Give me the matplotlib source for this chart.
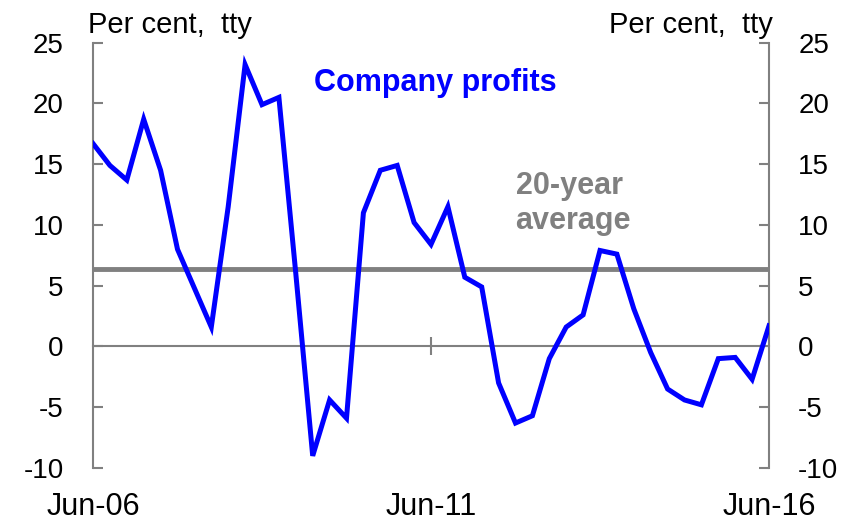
import numpy as np
import matplotlib
matplotlib.use("Agg")
import matplotlib.pyplot as plt

# quarterly, Jun-06 .. Jun-16
profits = [16.7, 14.9, 13.7, 18.7, 14.5, 8.0, 4.8, 1.6, 11.5, 23.2,
           19.9, 20.5, 6.0, -9.0, -4.4, -5.9, 11.0, 14.5, 14.9, 10.2,
           8.4, 11.5, 5.7, 4.9, -3.0, -6.3, -5.7, -1.0, 1.6, 2.6,
           7.9, 7.6, 3.1, -0.5, -3.5, -4.4, -4.8, -1.0, -0.9, -2.7, 1.7]
avg_20yr = 6.4
xtick_pos = [0, 20, 40]
xtick_labels = ["Jun-06", "Jun-11", "Jun-16"]
yticks = [-10, -5, 0, 5, 10, 15, 20, 25]

plt.rcParams['font.family'] = ['Liberation Sans', 'DejaVu Sans']
grey = '#808080'
blue = '#0000FF'

fig = plt.figure(figsize=(8.55, 5.2), dpi=100)
ax = fig.add_axes([93/855, 1-468/520, 676/855, (468-42.7)/520])

q = np.arange(len(profits))
ax.axhline(avg_20yr, color=grey, lw=3.5, zorder=2)
ax.plot(q, profits, color=blue, lw=3.6, zorder=3, solid_joinstyle='miter')

ax.set_xlim(0, len(profits) - 1)
ax.set_ylim(-10, 25)
ax.set_yticks(yticks)
ax.set_yticklabels([str(v) for v in yticks])

for s in ['left', 'right']:
    ax.spines[s].set_color(grey)
    ax.spines[s].set_linewidth(1.5)
ax.spines['top'].set_visible(False)
ax.spines['bottom'].set_position(('data', 0))
ax.spines['bottom'].set_color(grey)
ax.spines['bottom'].set_linewidth(1.5)
ax.spines['bottom'].set_zorder(1)

ax.tick_params(axis='y', which='both', direction='in', length=7, width=1.5,
               color=grey, labelsize=20, left=True, right=True,
               labelleft=True, labelright=True, pad=21)
ax.set_xticks([20])
ax.tick_params(axis='x', direction='inout', length=13, width=1.5, color=grey,
               labelbottom=False)

sec = ax.secondary_xaxis('bottom')
sec.set_xticks(xtick_pos)
sec.set_xticklabels(xtick_labels)
sec.spines['bottom'].set_visible(False)
sec.tick_params(axis='x', length=0, pad=17, labelsize=22)

ax.text(-0.007, 1.023, "Per cent,  tty", transform=ax.transAxes,
        ha='left', va='baseline', fontsize=21)
ax.text(1.006, 1.023, "Per cent,  tty", transform=ax.transAxes,
        ha='right', va='baseline', fontsize=21)

ax.text(13.1, 21.0, "Company profits", color=blue, fontsize=22,
        fontweight='bold', ha='left', va='baseline')
ax.text(25.0, 9.7, "20-year\naverage", color=grey, fontsize=22,
        fontweight='bold', ha='left', va='baseline', linespacing=1.2)

fig.savefig("out.png", dpi=100)
